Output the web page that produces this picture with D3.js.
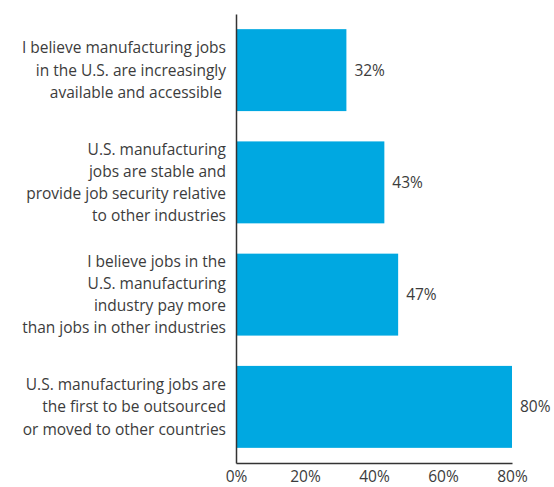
<!DOCTYPE html>
<html>
<head>
<meta charset="utf-8">
<script src="https://cdn.jsdelivr.net/npm/d3@7"></script>
<style>
  html, body { margin: 0; padding: 0; background: #fff; }
  svg { display: block; }
  text { font-family: "Open Sans", "Noto Sans", sans-serif; font-weight: 400; fill: #3c3c3c; }
</style>
</head>
<body>
<svg id="chart" width="554" height="487"></svg>
<script>
// Survey statements (each label split into display lines)
const categories = [
  ["I believe manufacturing jobs", "in the U.S. are increasingly", "available and accessible "],
  ["U.S. manufacturing", "jobs are stable and", "provide job security relative", "to other industries"],
  ["I believe jobs in the", "U.S. manufacturing", "industry pay more", "than jobs in other industries"],
  ["U.S. manufacturing jobs are", "the first to be outsourced", "or moved to other countries"]
];
const values = [32, 43, 47, 80];
const tickValues = [0, 20, 40, 60, 80];

const svg = d3.select("#chart");
const margin = { left: 236, top: 14, right: 42, bottom: 24 };
const width = 554, height = 487;

const x = d3.scaleLinear().domain([0, 80]).range([margin.left, width - margin.right]);
const y = d3.scaleBand()
  .domain(d3.range(categories.length))
  .range([margin.top, height - margin.bottom])
  .paddingInner(0.27)
  .paddingOuter(0.135);

const barColor = "#00a8e1";
const fontSize = 15.5;
const lineH = 22.2;

// bars
svg.selectAll("rect.bar")
  .data(values)
  .join("rect")
  .attr("class", "bar")
  .attr("x", x(0))
  .attr("y", (d, i) => y(i))
  .attr("width", d => x(d) - x(0))
  .attr("height", y.bandwidth())
  .attr("fill", barColor);

// value labels
svg.selectAll("text.val")
  .data(values)
  .join("text")
  .attr("class", "val")
  .attr("x", d => x(d) + 8)
  .attr("y", (d, i) => y(i) + y.bandwidth() / 2)
  .attr("dy", "0.35em")
  .attr("font-size", fontSize)
  .text(d => d + "%");

// category labels
const catG = svg.selectAll("text.cat")
  .data(categories)
  .join("text")
  .attr("class", "cat")
  .attr("text-anchor", "end")
  .attr("font-size", fontSize);
catG.each(function (lines, i) {
  const cy = y(i) + y.bandwidth() / 2;
  const startY = cy - (lines.length - 1) * lineH / 2;
  d3.select(this).selectAll("tspan")
    .data(lines)
    .join("tspan")
    .attr("x", margin.left - 10)
    .attr("y", (d, k) => startY + k * lineH)
    .attr("dy", "0.35em")
    .style("white-space", "pre")
    .text(d => d);
});

// x axis (no tick marks)
const xAxis = d3.axisBottom(x)
  .tickValues(tickValues)
  .tickFormat(d => d + "%")
  .tickSize(0)
  .tickPadding(8);
const gx = svg.append("g")
  .attr("transform", `translate(0,${height - margin.bottom})`)
  .call(xAxis);
gx.select(".domain").attr("stroke", "#333").attr("stroke-width", 1.5);
gx.selectAll(".tick text")
  .attr("font-size", fontSize)
  .attr("font-family", null)
  .attr("fill", null)
  .attr("dy", "0.71em");

// y axis line
const gy = svg.append("g")
  .attr("transform", `translate(${margin.left},0)`)
  .call(d3.axisLeft(y).tickSize(0).tickFormat(""));
gy.select(".domain").attr("stroke", "#333").attr("stroke-width", 1.5);
</script>
</body>
</html>
